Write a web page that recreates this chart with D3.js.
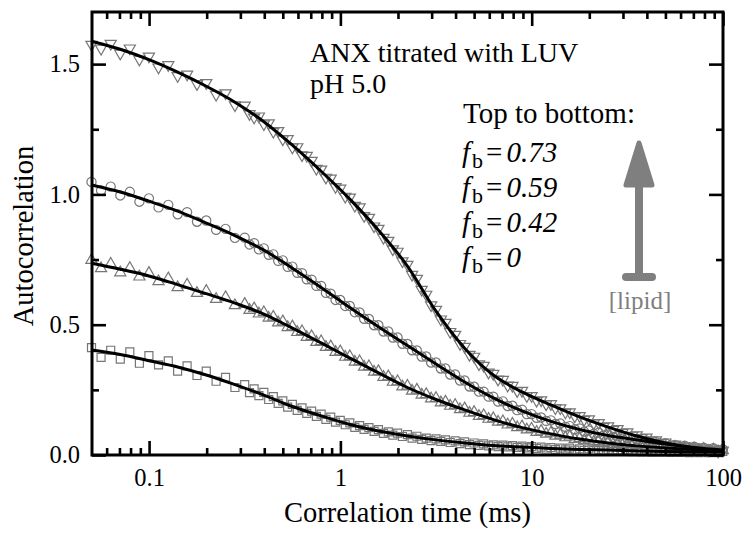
<!DOCTYPE html>
<html><head><meta charset="utf-8">
<script src="https://cdn.jsdelivr.net/npm/d3@7"></script>
<style>body{margin:0;background:#fff}svg{display:block}text{font-family:'Liberation Serif','Times New Roman',serif}</style>
</head><body>
<script>
// Correlation time (ms) for each data point
const tau = [0.0500,0.0561,0.0630,0.0707,0.0793,0.0890,0.0998,0.112,0.126,0.141,
  0.158,0.178,0.199,0.224,0.251,0.281,
  0.316,0.335,0.354,0.375,0.398,0.422,0.446,0.473,0.500,0.530,
  0.561,0.595,0.630,0.667,0.707,0.749,0.793,0.840,0.890,0.943,
  0.998,1.06,1.12,1.19,1.26,1.33,1.41,1.50,1.58,1.68,
  1.78,1.88,1.99,2.11,2.24,2.37,2.51,2.66,2.81,2.98,
  3.16,3.35,3.54,3.75,3.98,4.22,4.46,4.73,5.00,5.30,
  5.61,5.95,6.30,6.67,7.07,7.49,7.93,8.40,8.90,9.43,
  9.98,10.6,11.2,11.9,12.6,13.3,14.1,15.0,15.8,16.8,
  17.8,18.8,19.9,21.1,22.4,23.7,25.1,26.6,28.1,29.8,
  31.6,33.5,35.4,37.5,39.8,42.2,44.6,47.3,50.0,53.0,
  56.1,59.5,63.0,66.7,70.7,74.9,79.3,84.0,89.0,94.3,99.8];

// measured autocorrelation (markers), top to bottom
const dataFb073 = [1.575,1.560,1.579,1.541,1.561,1.518,1.530,1.488,1.497,1.455,
  1.461,1.424,1.428,1.383,1.389,1.343,
  1.342,1.309,1.296,1.300,1.270,1.274,1.241,1.244,1.212,1.213,
  1.181,1.182,1.151,1.149,1.130,1.099,1.096,1.065,1.062,1.029,
  1.023,0.992,0.989,0.957,0.951,0.918,0.911,0.878,0.869,0.834,
  0.823,0.790,0.781,0.744,0.731,0.692,0.677,0.635,0.616,0.575,
  0.558,0.521,0.508,0.473,0.462,0.427,0.416,0.385,0.378,0.349,
  0.343,0.317,0.312,0.290,0.289,0.267,0.266,0.246,0.247,0.227,
  0.227,0.209,0.211,0.195,0.196,0.180,0.180,0.164,0.165,0.149,
  0.150,0.136,0.138,0.122,0.123,0.109,0.111,0.097,0.100,0.086,
  0.088,0.075,0.076,0.066,0.068,0.056,0.057,0.047,0.049,0.039,
  0.041,0.031,0.034,0.026,0.030,0.022,0.026,0.018,0.022,0.014,0.018];
const dataFb059 = [1.048,1.015,1.030,0.996,1.010,0.972,0.985,0.950,0.960,0.924,
  0.932,0.895,0.900,0.864,0.868,0.833,
  0.834,0.808,0.813,0.789,0.793,0.768,0.770,0.745,0.747,0.722,
  0.723,0.699,0.698,0.674,0.673,0.649,0.649,0.622,0.619,0.595,
  0.595,0.572,0.572,0.548,0.547,0.523,0.522,0.498,0.498,0.474,
  0.474,0.451,0.451,0.427,0.426,0.402,0.401,0.378,0.378,0.355,
  0.355,0.332,0.332,0.309,0.309,0.286,0.286,0.263,0.262,0.243,
  0.243,0.224,0.224,0.205,0.206,0.188,0.189,0.172,0.174,0.157,
  0.157,0.143,0.144,0.131,0.133,0.119,0.121,0.108,0.111,0.099,
  0.102,0.090,0.094,0.082,0.086,0.075,0.079,0.069,0.072,0.063,
  0.066,0.058,0.061,0.052,0.055,0.046,0.049,0.041,0.045,0.036,
  0.039,0.032,0.036,0.028,0.032,0.024,0.028,0.021,0.026,0.018,0.022];
const dataFb042 = [0.748,0.716,0.733,0.700,0.717,0.684,0.698,0.666,0.677,0.643,
  0.653,0.621,0.629,0.598,0.605,0.574,
  0.579,0.556,0.562,0.542,0.547,0.526,0.530,0.508,0.512,0.490,
  0.493,0.471,0.474,0.452,0.455,0.433,0.436,0.414,0.416,0.395,
  0.397,0.376,0.378,0.357,0.359,0.338,0.340,0.319,0.321,0.299,
  0.301,0.280,0.282,0.262,0.265,0.246,0.250,0.231,0.233,0.216,
  0.218,0.201,0.204,0.188,0.191,0.175,0.178,0.161,0.164,0.149,
  0.152,0.138,0.140,0.127,0.129,0.116,0.119,0.106,0.109,0.097,
  0.100,0.088,0.092,0.081,0.085,0.073,0.077,0.067,0.070,0.061,
  0.064,0.056,0.059,0.050,0.053,0.045,0.049,0.041,0.045,0.037,
  0.041,0.034,0.038,0.030,0.034,0.027,0.032,0.025,0.030,0.023,
  0.028,0.021,0.026,0.019,0.024,0.017,0.022,0.015,0.020,0.013,0.018];
const dataFb0 = [0.412,0.375,0.402,0.368,0.396,0.352,0.381,0.346,0.361,0.322,
  0.342,0.305,0.322,0.283,0.298,0.259,
  0.270,0.239,0.254,0.228,0.240,0.213,0.224,0.198,0.208,0.184,
  0.194,0.171,0.181,0.160,0.168,0.148,0.157,0.137,0.145,0.126,
  0.133,0.116,0.123,0.106,0.113,0.098,0.105,0.091,0.097,0.083,
  0.089,0.076,0.084,0.071,0.078,0.065,0.072,0.060,0.065,0.055,
  0.062,0.052,0.058,0.048,0.054,0.044,0.050,0.040,0.046,0.037,
  0.043,0.035,0.039,0.032,0.038,0.031,0.036,0.029,0.034,0.027,
  0.032,0.025,0.030,0.023,0.028,0.021,0.026,0.020,0.026,0.019,
  0.024,0.018,0.024,0.017,0.022,0.016,0.022,0.015,0.020,0.014,
  0.020,0.013,0.018,0.012,0.018,0.011,0.017,0.011,0.016,0.010,
  0.016,0.010,0.016,0.009,0.015,0.009,0.015,0.009,0.015,0.009,0.014];

// fitted curves
const fitTau = [0.0500,0.0707,0.0998,0.141,0.199,0.281,0.398,0.561,0.793,1.12,
  1.58,2.24,3.16,4.46,6.30,8.90,12.6,17.8,25.1,35.4,50.0,70.7,99.8];
const fitFb073 = [1.588,1.557,1.517,1.469,1.415,1.354,1.279,1.189,1.089,0.982,
  0.863,0.725,0.552,0.410,0.307,0.242,0.192,0.146,0.107,0.073,0.046,0.027,0.015];
const fitFb059 = [1.036,1.009,0.974,0.936,0.890,0.842,0.786,0.717,0.643,0.566,
  0.492,0.420,0.349,0.280,0.219,0.169,0.129,0.098,0.075,0.058,0.042,0.029,0.019];
const fitFb042 = [0.736,0.713,0.687,0.654,0.619,0.583,0.541,0.487,0.430,0.372,
  0.315,0.259,0.213,0.173,0.136,0.105,0.081,0.061,0.046,0.035,0.027,0.021,0.015];
const fitFb0 = [0.403,0.386,0.362,0.338,0.307,0.270,0.230,0.186,0.150,0.117,
  0.092,0.073,0.058,0.046,0.036,0.031,0.025,0.021,0.019,0.015,0.013,0.012,0.012];

const xMajorTicks = [0.1, 1, 10, 100];
const xTickLabels = ["0.1", "1", "10", "100"];
const xMinorTicks = [0.06,0.07,0.08,0.09,0.2,0.3,0.4,0.5,0.6,0.7,0.8,0.9,
  2,3,4,5,6,7,8,9,20,30,40,50,60,70,80,90];
const yMajorTicks = [0, 0.5, 1.0, 1.5];
const yTickLabels = ["0.0", "0.5", "1.0", "1.5"];
const yMinorTicks = [0.25, 0.75, 1.25];
const fbLabels = ["0.73", "0.59", "0.42", "0"];

const FONT = "'Liberation Serif','Times New Roman',serif";
const W = 749, H = 535;
const svg = d3.select("body").append("svg").attr("width", W).attr("height", H)
  .style("font-family", FONT);

const x = d3.scaleLog().domain([0.05, 100]).range([91.5, 723]);
const y = d3.scaleLinear().domain([0, 1.7]).range([455, 12]);

const series = [
  {data: dataFb073, fit: fitFb073, sym: "tridown"},
  {data: dataFb059, fit: fitFb059, sym: "circle"},
  {data: dataFb042, fit: fitFb042, sym: "triup"},
  {data: dataFb0, fit: fitFb0, sym: "square"}
];

// markers
const markerColor = "#767676";
series.forEach(s => {
  const g = svg.append("g");
  const pts = tau.map((t, i) => [t, s.data[i]]);
  let shape;
  if (s.sym === "circle") shape = d3.symbol().type(d3.symbolCircle).size(66);
  else if (s.sym === "square") shape = d3.symbol().type(d3.symbolSquare).size(64);
  else shape = d3.symbol().type(d3.symbolTriangle).size(54);
  g.selectAll("path").data(pts).join("path")
    .attr("d", shape)
    .attr("transform", d => `translate(${x(d[0])},${y(d[1])})` + (s.sym === "tridown" ? " rotate(180)" : ""))
    .attr("fill", "none")
    .attr("stroke", markerColor)
    .attr("stroke-width", 1.2);
});

// fit lines
const line = d3.line().x(d => x(d[0])).y(d => y(d[1])).curve(d3.curveMonotoneX);
series.forEach(s => {
  svg.append("path")
    .datum(fitTau.map((t, i) => [t, s.fit[i]]))
    .attr("d", line)
    .attr("fill", "none")
    .attr("stroke", "#000")
    .attr("stroke-width", 3);
});

// axes
function styleAxis(g) {
  g.attr("font-family", FONT);
  g.select(".domain").remove();
  g.selectAll(".tick line").attr("stroke", "#000").attr("stroke-width", 2.6);
  g.selectAll(".tick text").attr("fill", "#000").style("font-size", "24.5px")
    .style("font-family", FONT);
}
svg.append("g").attr("transform", "translate(0,455)")
  .call(d3.axisBottom(x).tickValues(xMajorTicks).tickFormat((d, i) => xTickLabels[i]).tickSize(-14).tickPadding(14))
  .call(styleAxis);
svg.append("g").attr("transform", "translate(0,455)")
  .call(d3.axisBottom(x).tickValues(xMinorTicks).tickFormat("").tickSize(-7))
  .call(styleAxis);
svg.append("g").attr("transform", "translate(0,12)")
  .call(d3.axisTop(x).tickValues(xMajorTicks).tickFormat("").tickSize(-14))
  .call(styleAxis);
svg.append("g").attr("transform", "translate(0,12)")
  .call(d3.axisTop(x).tickValues(xMinorTicks).tickFormat("").tickSize(-7))
  .call(styleAxis);
svg.append("g").attr("transform", "translate(92,0)")
  .call(d3.axisLeft(y).tickValues(yMajorTicks).tickFormat((d, i) => yTickLabels[i]).tickSize(-14).tickPadding(12))
  .call(styleAxis);
svg.append("g").attr("transform", "translate(92,0)")
  .call(d3.axisLeft(y).tickValues(yMinorTicks).tickFormat("").tickSize(-7))
  .call(styleAxis);
svg.append("g").attr("transform", "translate(723,0)")
  .call(d3.axisRight(y).tickValues(yMajorTicks).tickFormat("").tickSize(-14))
  .call(styleAxis);
svg.append("g").attr("transform", "translate(723,0)")
  .call(d3.axisRight(y).tickValues(yMinorTicks).tickFormat("").tickSize(-7))
  .call(styleAxis);

// frame
svg.append("rect").attr("x", 92).attr("y", 12).attr("width", 631).attr("height", 443)
  .attr("fill", "none").attr("stroke", "#000").attr("stroke-width", 3);

// axis titles
svg.append("text").attr("x", 407.5).attr("y", 522).attr("text-anchor", "middle")
  .style("font-family", FONT).style("font-size", "28.5px").text("Correlation time (ms)");
svg.append("text").attr("transform", "translate(33,236) rotate(-90)").attr("text-anchor", "middle")
  .style("font-family", FONT).style("font-size", "28.5px").text("Autocorrelation");

// annotations
svg.append("text").attr("x", 310).attr("y", 61.5).style("font-family", FONT).style("font-size", "28px").text("ANX titrated with LUV");
svg.append("text").attr("x", 310).attr("y", 93).style("font-family", FONT).style("font-size", "28px").text("pH 5.0");
svg.append("text").attr("x", 463).attr("y", 123).style("font-family", FONT).style("font-size", "29px").text("Top to bottom:");

fbLabels.forEach((lab, i) => {
  const t = svg.append("text").attr("x", 462).attr("y", 162 + i * 35)
    .style("font-family", FONT).style("font-size", "29px");
  t.append("tspan").style("font-style", "italic").text("f");
  t.append("tspan").attr("dy", 6).attr("dx", 2).style("font-size", "22px").text("b");
  t.append("tspan").attr("dy", -6).attr("dx", 3).text("=");
  t.append("tspan").attr("dx", 4).style("font-style", "italic").text(lab);
});

// arrow
const gray = "#7f7f7f";
svg.append("line").attr("x1", 639).attr("x2", 639).attr("y1", 277).attr("y2", 184)
  .attr("stroke", gray).attr("stroke-width", 8);
svg.append("line").attr("x1", 626).attr("x2", 652).attr("y1", 277).attr("y2", 277)
  .attr("stroke", gray).attr("stroke-width", 8).attr("stroke-linecap", "round");
svg.append("path").attr("d", "M639,143 L626,185 L652,185 Z")
  .attr("fill", gray).attr("stroke", gray).attr("stroke-width", 5).attr("stroke-linejoin", "round");
svg.append("text").attr("x", 640).attr("y", 309).attr("text-anchor", "middle")
  .attr("fill", gray).style("font-family", FONT).style("font-size", "25px").text("[lipid]");
</script>
</body></html>
